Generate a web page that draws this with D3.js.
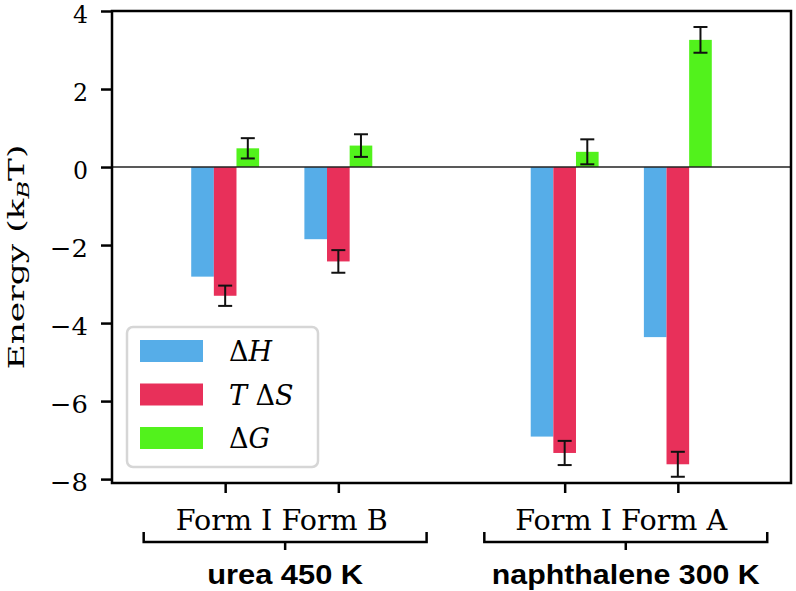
<!DOCTYPE html>
<html><head><meta charset="utf-8">
<script src="https://cdn.jsdelivr.net/npm/d3@7"></script>
<style>body{margin:0;background:#fff}svg{display:block}</style>
</head><body><svg id="c" width="796" height="591"></svg>
<script>
const categories = ["Form I", "Form B", "Form I", "Form A"];
const positions = [0, 1, 3, 4];
const dH = [-2.81, -1.85, -6.91, -4.36];
const TdS = [-3.30, -2.42, -7.33, -7.62];
const TdSErr = [0.26, 0.29, 0.31, 0.32];
const dG = [0.48, 0.55, 0.39, 3.26];
const dGErr = [0.26, 0.29, 0.32, 0.33];
const groups = ["urea 450 K", "naphthalene 300 K"];
const groupSpans = [[-0.72, 1.78], [2.29, 4.79]];
const yTicks = [-8, -6, -4, -2, 0, 2, 4];
const seriesNames = ["ΔH", "TΔS", "ΔG"];
const colors = ["#56ade8", "#e8305a", "#52f21c"];

const svg = d3.select("#c");
const L = 112, R = 791, T = 11, B = 483;
const x = d3.scaleLinear().domain([-1, 5]).range([L, R]);
const y = d3.scaleLinear().domain([-8.1, 4]).range([B, T]);
const bw = 0.2;
const serif = "'DejaVu Serif', 'Liberation Serif', serif";

const series = [
  {vals: dH, err: null, off: -bw},
  {vals: TdS, err: TdSErr, off: 0},
  {vals: dG, err: dGErr, off: bw}
];
series.forEach((s, si) => {
  svg.append("g").selectAll("rect").data(s.vals).join("rect")
    .attr("x", (d, i) => x(positions[i] + s.off - bw / 2))
    .attr("width", x(bw) - x(0))
    .attr("y", d => y(Math.max(0, d)))
    .attr("height", d => Math.abs(y(d) - y(0)))
    .attr("fill", colors[si]);
});
// zero line
svg.append("line").attr("x1", L).attr("x2", R).attr("y1", y(0)).attr("y2", y(0))
  .attr("stroke", "#222").attr("stroke-width", 1.6);
// error bars
series.forEach(s => {
  if (!s.err) return;
  const g = svg.append("g").attr("stroke", "#111").attr("stroke-width", 2);
  s.vals.forEach((d, i) => {
    const cx = x(positions[i] + s.off), e = s.err[i];
    g.append("line").attr("x1", cx).attr("x2", cx).attr("y1", y(d - e)).attr("y2", y(d + e));
    [d - e, d + e].forEach(v => g.append("line").attr("x1", cx - 7).attr("x2", cx + 7).attr("y1", y(v)).attr("y2", y(v)));
  });
});
// axes
const yAxis = d3.axisLeft(y).tickValues(yTicks).tickSize(11).tickPadding(13)
  .tickFormat(d => d < 0 ? "\u2212" + Math.abs(d) : String(d));
const ga = svg.append("g").attr("transform", `translate(${L},0)`).call(yAxis)
  .attr("font-family", serif).attr("font-size", 25);
ga.select(".domain").remove();
ga.selectAll(".tick line").attr("stroke", "#000").attr("stroke-width", 2.5);
ga.selectAll(".tick text").attr("font-family", serif).attr("font-size", 25).attr("fill", "#000")
  .attr("textLength", d => d < 0 ? 38 : 15).attr("lengthAdjust", "spacingAndGlyphs")
  .attr("dy", "0.45em");

const xAxis = d3.axisBottom(x).tickValues(positions).tickSize(10).tickFormat("");
const gx = svg.append("g").attr("transform", `translate(0,${B})`).call(xAxis);
gx.select(".domain").remove();
gx.selectAll(".tick line").attr("stroke", "#000").attr("stroke-width", 2.5);

svg.append("rect").attr("x", L).attr("y", T).attr("width", R - L).attr("height", B - T)
  .attr("fill", "none").attr("stroke", "#000").attr("stroke-width", 2.5);

// category labels (two per group)
[[0, 1], [2, 3]].forEach(pair => {
  const cx = (x(positions[pair[0]]) + x(positions[pair[1]])) / 2;
  svg.append("text").attr("x", cx).attr("y", 530).attr("text-anchor", "middle")
    .attr("font-family", serif).attr("font-size", 27)
    .attr("textLength", 212).attr("lengthAdjust", "spacingAndGlyphs")
    .text(categories[pair[0]] + " " + categories[pair[1]]);
});
// brackets + group labels
groups.forEach((gname, gi) => {
  const [a, b] = groupSpans[gi];
  const x0 = x(a), x1 = x(b), cx = (x0 + x1) / 2, by = 542;
  svg.append("path").attr("d", `M${x0},${by - 10}V${by}H${x1}V${by - 10}M${cx},${by}V${by + 8}`)
    .attr("fill", "none").attr("stroke", "#000").attr("stroke-width", 2.5);
  const tl = gi === 0 ? 156 : 268;
  svg.append("text").attr("x", cx).attr("y", 584).attr("text-anchor", "middle")
    .attr("font-family", "'Liberation Sans', Arial, sans-serif").attr("font-weight", "bold")
    .attr("font-size", 27).attr("textLength", tl).attr("lengthAdjust", "spacingAndGlyphs")
    .text(gname);
});

// y-axis title
const yt = svg.append("text").attr("transform", `translate(24,${(T + B) / 2 + 10}) rotate(-90)`)
  .attr("text-anchor", "middle").attr("font-family", serif).attr("font-size", 23).attr("fill", "#000")
  .attr("textLength", 225).attr("lengthAdjust", "spacingAndGlyphs");
yt.append("tspan").text("Energy (k");
yt.append("tspan").attr("font-style", "italic").attr("font-size", 16).attr("dy", 5).text("B");
yt.append("tspan").attr("dy", -5).text("T)");

// legend
const lg = svg.append("g");
lg.append("rect").attr("x", 127).attr("y", 327).attr("width", 191).attr("height", 140)
  .attr("rx", 6).attr("fill", "#fff").attr("fill-opacity", 0.85).attr("stroke", "#d6d6d6").attr("stroke-width", 2.5);
const labelParts = [[["Δ", false], ["H", true]], [["T", true], [" Δ", false], ["S", true]], [["Δ", false], ["G", true]]];
seriesNames.forEach((n, i) => {
  const yy = 340 + i * 43.5;
  lg.append("rect").attr("x", 140).attr("y", yy).attr("width", 63).attr("height", 22).attr("fill", colors[i]);
  const t = lg.append("text").attr("x", 229).attr("y", yy + 21).attr("font-family", serif).attr("font-size", 27).attr("fill", "#000");
  labelParts[i].forEach(([s, it]) => t.append("tspan").attr("font-style", it ? "italic" : "normal").text(s));
});
</script></body></html>
